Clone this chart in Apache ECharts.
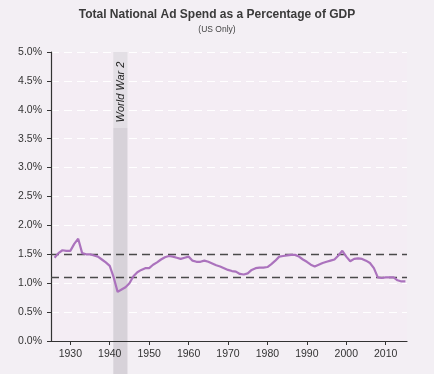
<!DOCTYPE html>
<html><head><meta charset="utf-8">
<script src="https://cdn.jsdelivr.net/npm/echarts@6/dist/echarts.min.js"></script>
<style>html,body{margin:0;padding:0;background:#f3eff4;}#c{width:434px;height:374px;}</style>
</head><body><div id="c"></div>
<script>
const years = [];
for (let y = 1926; y <= 2015; y++) years.push(y);
const adSpend = [
1.44,1.52,1.57,1.56,1.56,1.68,1.77,1.52,1.50,1.50,
1.48,1.46,1.41,1.36,1.30,1.10,0.85,0.89,0.93,1.00,
1.12,1.19,1.23,1.26,1.26,1.32,1.36,1.41,1.45,1.47,
1.46,1.44,1.42,1.44,1.46,1.39,1.37,1.37,1.39,1.37,
1.34,1.31,1.29,1.26,1.23,1.21,1.20,1.16,1.15,1.17,
1.23,1.26,1.27,1.27,1.28,1.33,1.39,1.46,1.47,1.48,
1.49,1.49,1.46,1.41,1.37,1.32,1.29,1.32,1.35,1.37,
1.39,1.41,1.48,1.56,1.46,1.38,1.42,1.43,1.42,1.39,
1.35,1.26,1.10,1.09,1.10,1.10,1.10,1.05,1.03,1.03];
const xTicks = [1930,1940,1950,1960,1970,1980,1990,2000,2010];
const refLines = [1.5, 1.1];
const warStart = 1940.9, warEnd = 1944.5;
const warLabel = 'World War 2';
const titleText = 'Total National Ad Spend as a Percentage of GDP';
const subText = '(US Only)';

const chart = echarts.init(document.getElementById('c'));
const font = 'Liberation Sans';
chart.setOption({
  backgroundColor: '#f3eff4',
  animation: false,
  title: {
    text: titleText, subtext: subText, left: 'center', top: 4, itemGap: 4,
    textStyle: {fontFamily: font, fontWeight: 'bold', fontSize: 12, color: '#3a3a3a'},
    subtextStyle: {fontFamily: font, fontSize: 8.5, color: '#444'}
  },
  grid: {left: 51, right: 27, top: 52, bottom: 33, show: true, backgroundColor: '#f4edf4', borderWidth: 0},
  xAxis: {
    type: 'value', min: 1925.1, max: 2015.4, z: 10,
    axisLine: {show: true, lineStyle: {color: '#333', width: 1.2}},
    axisTick: {show: true, length: 4, customValues: xTicks, lineStyle: {color: '#333'}},
    axisLabel: {customValues: xTicks, fontFamily: font, fontSize: 10.5, color: '#333', margin: 8, formatter: v => String(v)},
    splitLine: {show: false}
  },
  yAxis: {
    type: 'value', min: 0, max: 5, interval: 0.5,
    axisLine: {show: true, lineStyle: {color: '#333', width: 1.2}},
    axisTick: {show: true, length: 4, lineStyle: {color: '#333'}},
    axisLabel: {fontFamily: font, fontSize: 10.5, color: '#333', margin: 9, formatter: v => v.toFixed(1) + '%'},
    splitLine: {show: true, lineStyle: {color: '#ffffff', type: [8, 5], width: 1}}
  },
  series: [{
    type: 'line', z: 5,
    data: years.map((y, i) => [y, adSpend[i]]),
    showSymbol: false, smooth: false,
    lineStyle: {color: '#ab72bd', width: 2.2},
    markLine: {
      silent: true, symbol: 'none', label: {show: false},
      lineStyle: {color: '#4a4a4a', type: [8, 5], width: 1.4},
      data: refLines.map(v => ({yAxis: v}))
    }
  }]
});

function drawBand() {
  const x1 = chart.convertToPixel({xAxisIndex: 0}, warStart);
  const x2 = chart.convertToPixel({xAxisIndex: 0}, warEnd);
  const yTop = chart.convertToPixel({yAxisIndex: 0}, 5);
  const yText = yTop + 76;
  chart.setOption({
    graphic: [
      {type: 'rect', z: 1, silent: true, shape: {x: x1, y: yText, width: x2 - x1, height: 374 - yText}, style: {fill: '#d7d2d9'}},
      {type: 'rect', z: 1, silent: true, shape: {x: x1, y: yTop, width: x2 - x1, height: yText - yTop}, style: {fill: '#e3dfe5'}},
      {type: 'text', z: 3, silent: true, x: (x1 + x2) / 2 + 1, y: yTop + 40, rotation: Math.PI / 2,
        style: {text: warLabel, fontFamily: font, fontStyle: 'italic', fontSize: 11, fill: '#222', align: 'center', verticalAlign: 'middle'}}
    ]
  });
}
drawBand();
</script></body></html>
